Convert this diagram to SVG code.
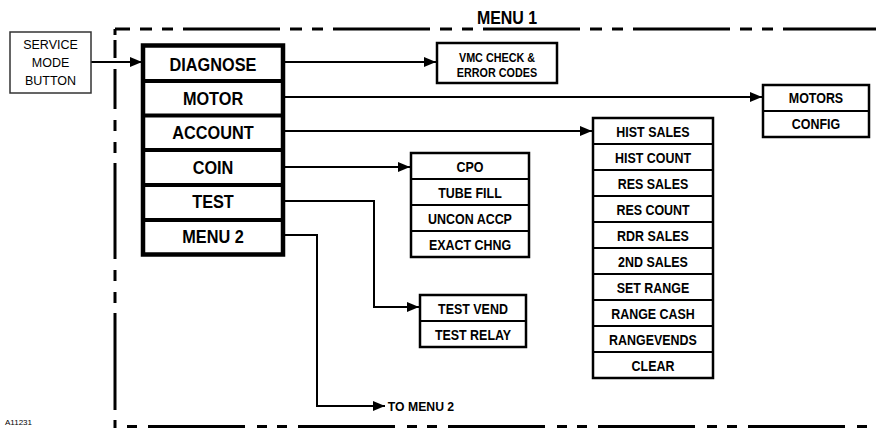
<svg xmlns="http://www.w3.org/2000/svg" width="876" height="428" viewBox="0 0 876 428">
<defs>
<marker id="ah" markerUnits="userSpaceOnUse" markerWidth="12" markerHeight="10" refX="12" refY="5" orient="auto">
<path d="M0,0 L12,5 L0,10 z" fill="#000"/>
</marker>
<style>
.dash{fill:none;stroke:#000;stroke-width:3}
.ln{fill:none;stroke:#000;stroke-width:2}
.box{fill:#fff;stroke:#000;stroke-width:2.5}
.div{stroke:#000;stroke-width:2}
.t{font-family:"Liberation Sans",Arial,sans-serif;text-anchor:middle;fill:#000;transform-box:fill-box;transform-origin:center}
.b18{font-size:18.5px;font-weight:bold;transform:scaleX(0.88)}
.b15{font-size:15px;font-weight:bold;transform:scaleX(0.83)}
.b19{font-size:19px;font-weight:bold;transform:scaleX(0.84)}
.r13{font-size:13.5px;font-weight:bold;transform:scaleX(0.8)}
.s12{font-size:12.5px}
.b13{font-size:13px;font-weight:bold;transform:scaleX(0.94)}
</style>
</defs>
<rect width="876" height="428" fill="#fff"/>

<g id="frame">
<path class="dash" d="M115,29 H876" stroke-dasharray="97 10 12 10 11 10" stroke-dashoffset="82"/>
<path class="dash" d="M115,29 V35 M115,40 V58 M115,69 V109 M115,120 V131 M115,142 V153 M115,163 V259 M115,270 V281 M115,292 V303 M115,313 V410 M115,420 V428"/>
<path class="dash" d="M127,426.5 H876" stroke-dasharray="97 12 10 10 10 11" stroke-dashoffset="129"/>
<text class="t b19" x="507" y="24">MENU 1</text>
<text x="5" y="424.5" font-family="Liberation Sans, Arial, sans-serif" font-size="8">A11231</text>
</g>

<g id="connectors">
<path class="ln" d="M91,62 H142" marker-end="url(#ah)"/>
<path class="ln" d="M285,62 H436" marker-end="url(#ah)"/>
<path class="ln" d="M285,97 H762" marker-end="url(#ah)"/>
<path class="ln" d="M285,131 H592" marker-end="url(#ah)"/>
<path class="ln" d="M285,167 H410" marker-end="url(#ah)"/>
<path class="ln" d="M285,201 H374 V307 H419" marker-end="url(#ah)"/>
<path class="ln" d="M285,235 H317 V406 H385" marker-end="url(#ah)"/>
<text class="t b13" x="421" y="411.5">TO MENU 2</text>
</g>

<g id="service-mode-button">
<rect x="10" y="32" width="81" height="61" fill="#fff" stroke="#333" stroke-width="1.5"/>
<text class="t s12" x="50.5" y="49">SERVICE</text>
<text class="t s12" x="50.5" y="67">MODE</text>
<text class="t s12" x="50.5" y="85">BUTTON</text>
</g>

<g id="menu1">
<rect x="143" y="45.5" width="140" height="209" fill="#fff" stroke="#000" stroke-width="4.5"/>
<path d="M143,81 H283 M143,115.5 H283 M143,150 H283 M143,185 H283 M143,220 H283" stroke="#000" stroke-width="4"/>
<text class="t b18" x="213" y="71">DIAGNOSE</text>
<text class="t b18" x="213" y="105">MOTOR</text>
<text class="t b18" x="213" y="139">ACCOUNT</text>
<text class="t b18" x="213" y="174">COIN</text>
<text class="t b18" x="213" y="208">TEST</text>
<text class="t b18" x="213" y="243">MENU 2</text>
</g>

<g id="vmc">
<rect class="box" x="437" y="43" width="120" height="40"/>
<text class="t r13" x="497" y="62">VMC CHECK &amp;</text>
<text class="t r13" x="497" y="77">ERROR CODES</text>
</g>

<g id="motors">
<rect class="box" x="763" y="85" width="106" height="52"/>
<path class="div" d="M763,111 H869"/>
<text class="t b15" x="816" y="103.5">MOTORS</text>
<text class="t b15" x="816" y="129">CONFIG</text>
</g>

<g id="account-list">
<rect class="box" x="593" y="118" width="120" height="260"/>
<path class="div" d="M593,144 H713 M593,170 H713 M593,196 H713 M593,222 H713 M593,248 H713 M593,274 H713 M593,300 H713 M593,326 H713 M593,352 H713"/>
<text class="t b15" x="653" y="137">HIST SALES</text>
<text class="t b15" x="653" y="163">HIST COUNT</text>
<text class="t b15" x="653" y="189">RES SALES</text>
<text class="t b15" x="653" y="215">RES COUNT</text>
<text class="t b15" x="653" y="241">RDR SALES</text>
<text class="t b15" x="653" y="267">2ND SALES</text>
<text class="t b15" x="653" y="293">SET RANGE</text>
<text class="t b15" x="653" y="319">RANGE CASH</text>
<text class="t b15" x="653" y="345">RANGEVENDS</text>
<text class="t b15" x="653" y="371">CLEAR</text>
</g>

<g id="coin-list">
<rect class="box" x="411" y="153" width="118" height="104"/>
<path class="div" d="M411,179 H529 M411,205 H529 M411,231 H529"/>
<text class="t b15" x="470" y="172">CPO</text>
<text class="t b15" x="470" y="198">TUBE FILL</text>
<text class="t b15" x="470" y="224">UNCON ACCP</text>
<text class="t b15" x="470" y="250">EXACT CHNG</text>
</g>

<g id="test-list">
<rect class="box" x="420" y="295" width="106" height="52"/>
<path class="div" d="M420,321 H526"/>
<text class="t b15" x="473" y="314">TEST VEND</text>
<text class="t b15" x="473" y="340">TEST RELAY</text>
</g>
</svg>
